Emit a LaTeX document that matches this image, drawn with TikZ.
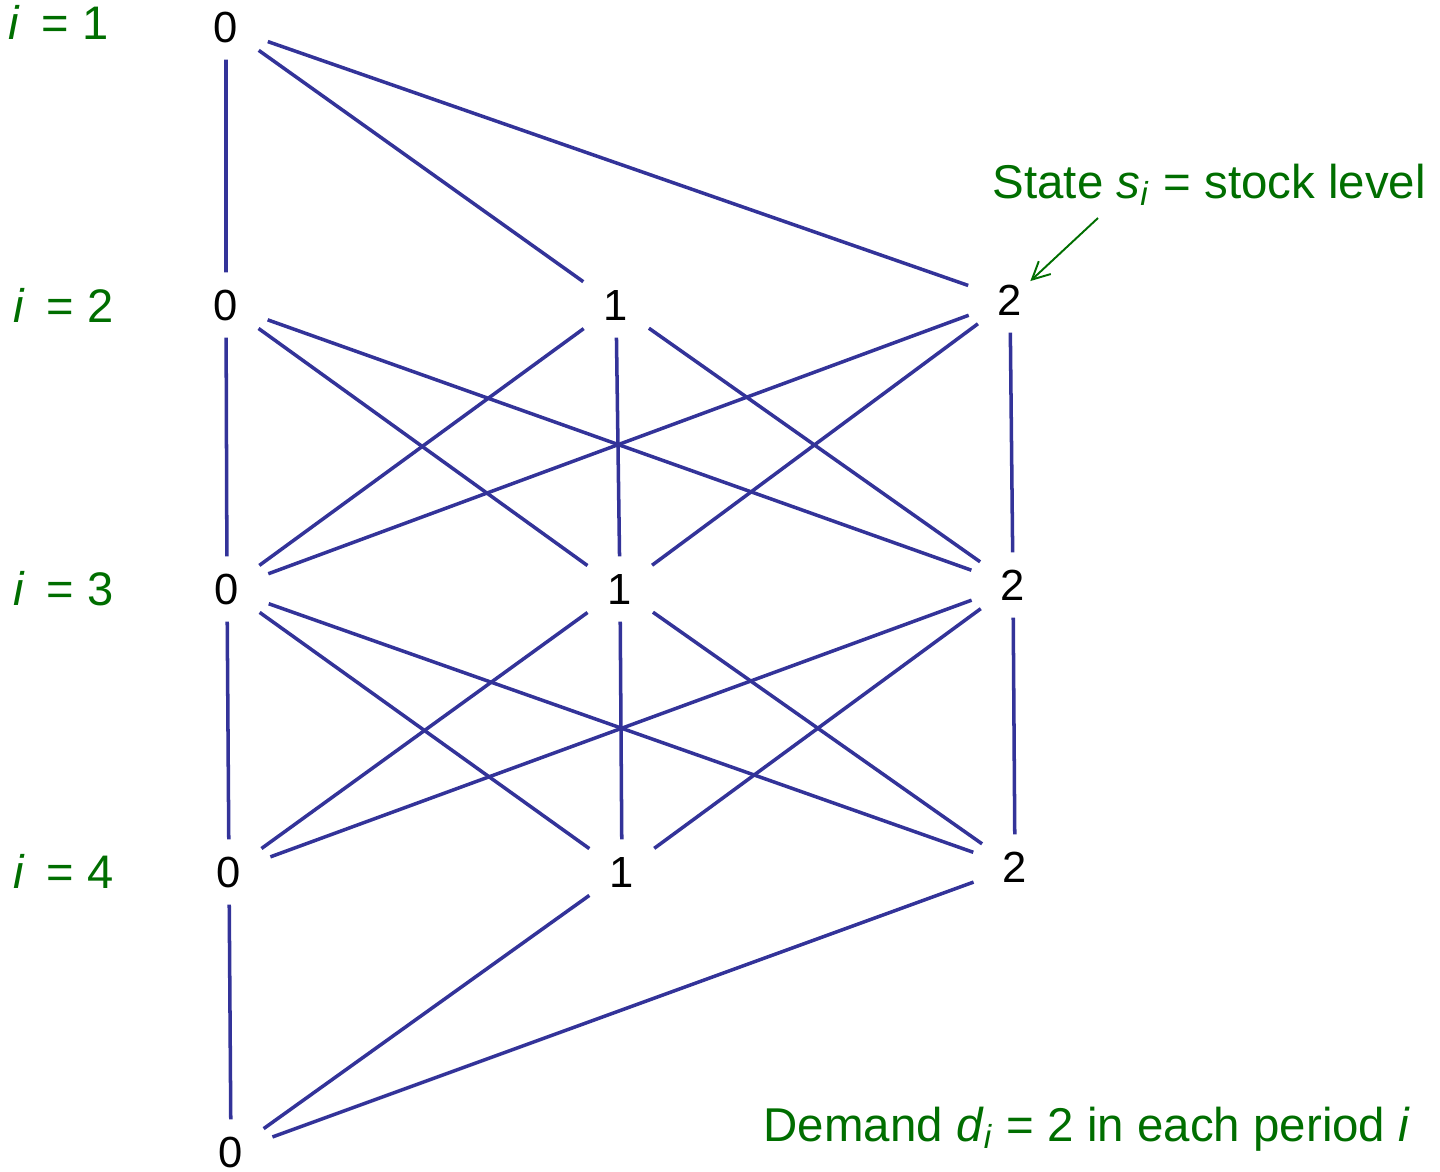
\documentclass[tikz,border=0pt]{standalone}
\usepackage{fontspec}
\setmainfont{Liberation Sans}
\usepackage{xcolor}
\usepackage{tikz}
\usetikzlibrary{positioning,arrows.meta,shapes.geometric}

\definecolor{arcblue}{RGB}{51,51,153}
\definecolor{notegreen}{RGB}{0,110,0}

\begin{document}
\begin{tikzpicture}[>=Stealth,
    lvl/.style={ellipse, inner sep=0pt, minimum width=0.92cm, minimum height=0.64cm,
                font=\fontsize{12.4}{14}\selectfont},
    arc/.style={draw=arcblue, line width=1pt},
    stage/.style={anchor=base west, text=notegreen, inner sep=0pt,
                  font=\fontsize{13.4}{16}\selectfont},
    note/.style={anchor=base west, text=notegreen, inner sep=0pt,
                 font=\fontsize{13.5}{16}\selectfont}]
  \useasboundingbox (0,0) rectangle (14.4,-11.71);

  % period labels
  \node[stage] (p1) at (0.08,-0.39) {\textit{i}\hspace{0.46em}= 1};
  \node[stage] (p2) at (0.13,-3.22) {\textit{i}\hspace{0.46em}= 2};
  \node[stage] (p3) at (0.13,-6.05) {\textit{i}\hspace{0.46em}= 3};
  \node[stage] (p4) at (0.13,-8.88) {\textit{i}\hspace{0.46em}= 4};

  % stock levels
  \node[lvl] (a0) at (2.26,-0.27) {0};
  \node[lvl] (b0) at (2.26,-3.05) {0};
  \node[lvl] (b1) at (6.16,-3.05) {1};
  \node[lvl] (b2) at (10.10,-3.00) {2};
  \node[lvl] (c0) at (2.27,-5.89) {0};
  \node[lvl] (c1) at (6.20,-5.89) {1};
  \node[lvl] (c2) at (10.13,-5.85) {2};
  \node[lvl] (d0) at (2.29,-8.72) {0};
  \node[lvl] (d1) at (6.22,-8.72) {1};
  \node[lvl] (d2) at (10.15,-8.67) {2};
  \node[lvl] (e0) at (2.31,-11.52) {0};

  \draw[arc] (a0) -- (b0) (a0) -- (b1) (a0) -- (b2);
  \draw[arc] (b0) -- (c0) (b0) -- (c1) (b0) -- (c2);
  \draw[arc] (b1) -- (c0) (b1) -- (c1) (b1) -- (c2);
  \draw[arc] (b2) -- (c0) (b2) -- (c1) (b2) -- (c2);
  \draw[arc] (c0) -- (d0) (c0) -- (d1) (c0) -- (d2);
  \draw[arc] (c1) -- (d0) (c1) -- (d1) (c1) -- (d2);
  \draw[arc] (c2) -- (d0) (c2) -- (d1) (c2) -- (d2);
  \draw[arc] (d0) -- (e0) (d1) -- (e0) (d2) -- (e0);

  \node[note] (statelbl) at (9.92,-1.98)
      {State \textit{s}\textsubscript{\textit{i}} = stock level};
  \coordinate (ptr) at (10.98,-2.18);
  \draw[notegreen, line width=0.55pt, shorten >=-3pt,
        -{Straight Barb[length=5pt,width=5pt]}] (ptr) -- (b2);

  \node[note] (demand) at (7.63,-11.41)
      {Demand \textit{d}\textsubscript{\textit{i}} = 2 in each period \textit{i}};
\end{tikzpicture}
\end{document}
